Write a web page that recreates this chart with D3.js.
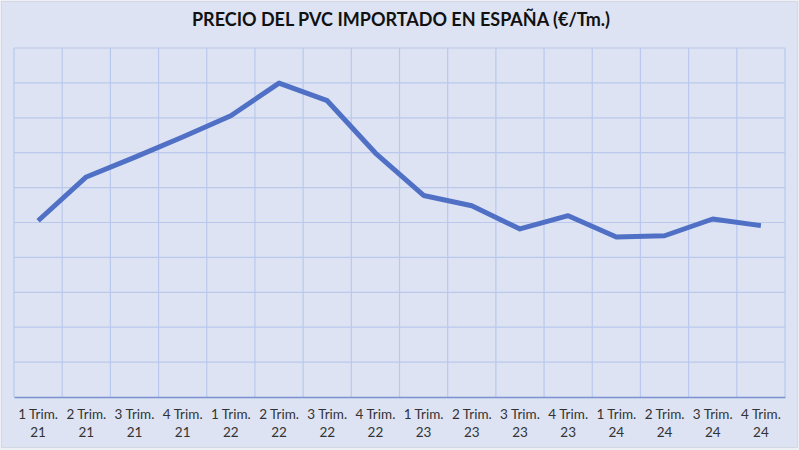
<!DOCTYPE html>
<html>
<head>
<meta charset="utf-8">
<script src="https://cdn.jsdelivr.net/npm/d3@7"></script>
<style>
    body { margin: 0; background: #eef0f6; }
    #chart { width: 799px; height: 450px; }
    .tick text { font-family: Lato, "Open Sans", sans-serif; }
</style>
</head>
<body>
<div id="chart"></div>
<script>
// quarters and prices (€/Tm.)
const quarters = ["1 Trim. 21", "2 Trim. 21", "3 Trim. 21", "4 Trim. 21",
    "1 Trim. 22", "2 Trim. 22", "3 Trim. 22", "4 Trim. 22",
    "1 Trim. 23", "2 Trim. 23", "3 Trim. 23", "4 Trim. 23",
    "1 Trim. 24", "2 Trim. 24", "3 Trim. 24", "4 Trim. 24"];
const prices = [1010, 1261, 1373, 1490, 1612, 1799, 1698, 1398,
    1155, 1096, 963, 1039, 917, 924, 1020, 982];
const yTicks = [0, 200, 400, 600, 800, 1000, 1200, 1400, 1600, 1800, 2000];

const width = 799;
const height = 450;
const margin = { top: 48, left: 14, right: 14, bottom: 53 };

const svg = d3.select("#chart")
    .append("svg")
    .attr("width", width)
    .attr("height", height);

// chart background + border
svg.append("rect")
    .attr("x", 1.5)
    .attr("y", 1.5)
    .attr("width", width - 3)
    .attr("height", height - 4)
    .attr("fill", "#dde3f3")
    .attr("stroke", "#d4d8e2")
    .attr("stroke-width", 1);

/*
SCALES
*/
const xScale = d3.scaleBand()
    .domain(quarters)
    .range([margin.left, width - margin.right]);

const yScale = d3.scaleLinear()
    .domain([0, 2000])
    .range([height - margin.bottom, margin.top]);

/*
GRID
*/
svg.append("g")
    .selectAll("line")
    .data(yTicks.slice(1))
    .enter()
    .append("line")
    .attr("x1", margin.left)
    .attr("x2", width - margin.right)
    .attr("y1", d => yScale(d))
    .attr("y2", d => yScale(d))
    .attr("stroke", "#b9c8ec")
    .attr("stroke-width", 1.2);

const edges = quarters.map(q => xScale(q)).concat([width - margin.right]);
svg.append("g")
    .selectAll("line")
    .data(edges)
    .enter()
    .append("line")
    .attr("x1", d => d)
    .attr("x2", d => d)
    .attr("y1", yScale(2000))
    .attr("y2", yScale(0))
    .attr("stroke", "#b9c8ec")
    .attr("stroke-width", 1.2);

/*
X AXIS
*/
const xAxis = svg.append("g")
    .attr("transform", `translate(0,${yScale(0)})`)
    .call(d3.axisBottom(xScale).tickSize(0).tickPadding(0));

xAxis.select(".domain")
    .attr("stroke", "#7a93d0")
    .attr("stroke-width", 1.5);

xAxis.selectAll(".tick text").each(function (d) {
    const parts = d.split(" ");
    const t = d3.select(this).text(null)
        .attr("fill", "#333")
        .attr("font-size", 13.5)
        .attr("y", 0);
    t.append("tspan").attr("x", 0).attr("dy", "1.65em").text(parts[0] + " " + parts[1]);
    t.append("tspan").attr("x", 0).attr("dy", "1.3em").text(parts[2]);
});

/*
LINE
*/
const line = d3.line()
    .x((d, i) => xScale(quarters[i]) + xScale.bandwidth() / 2)
    .y(d => yScale(d));

svg.append("path")
    .datum(prices)
    .attr("d", line)
    .attr("fill", "none")
    .attr("stroke", "#5070c6")
    .attr("stroke-width", 5)
    .attr("stroke-linejoin", "round");

/*
TITLE
*/
svg.append("text")
    .attr("x", 401)
    .attr("y", 26)
    .attr("text-anchor", "middle")
    .attr("font-family", "Lato, 'Open Sans', sans-serif")
    .attr("font-weight", "bold")
    .attr("font-size", 18)
    .attr("fill", "#111")
    .text("PRECIO DEL PVC IMPORTADO EN ESPAÑA (€/Tm.)");
</script>
</body>
</html>
